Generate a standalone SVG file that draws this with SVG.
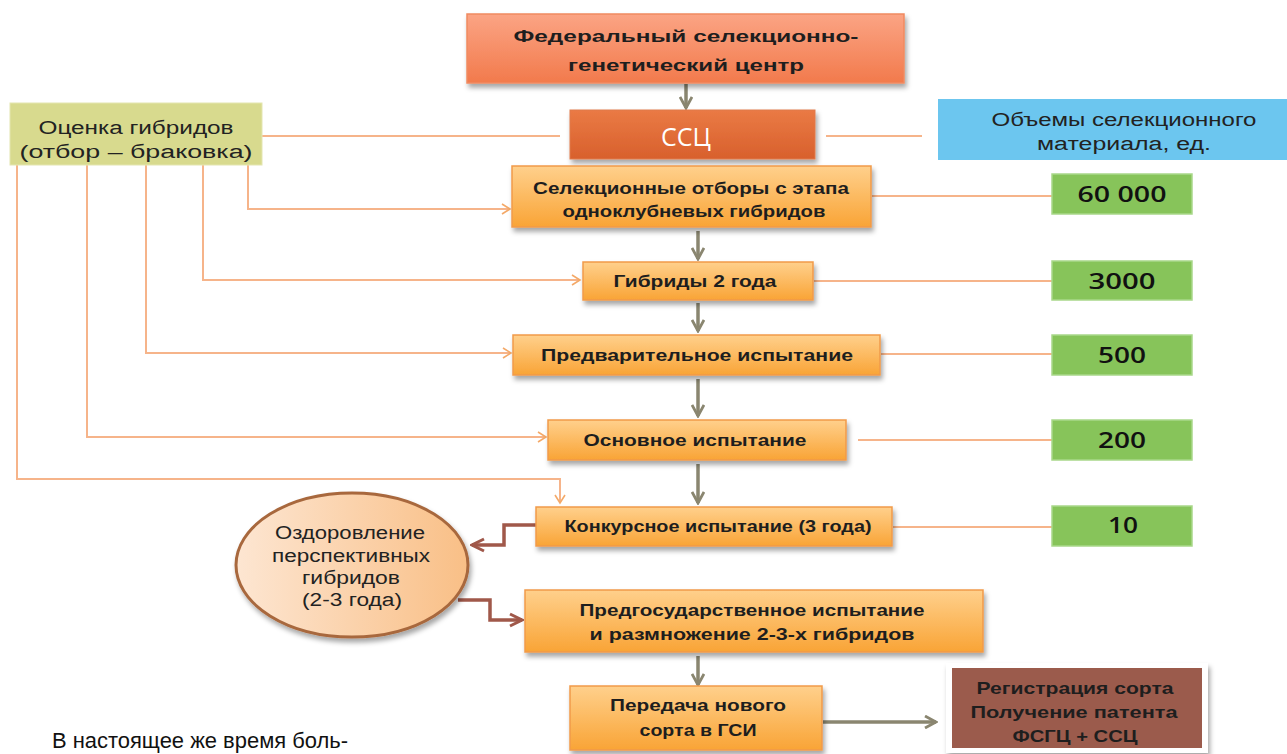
<svg xmlns="http://www.w3.org/2000/svg" width="1287" height="754" viewBox="0 0 1287 754">
<defs>
<linearGradient id="gOr" x1="0" y1="0" x2="0" y2="1">
<stop offset="0" stop-color="#ffd08c"/>
<stop offset="1" stop-color="#f9a436"/>
</linearGradient>
<linearGradient id="gFed" x1="0" y1="0" x2="0" y2="1">
<stop offset="0" stop-color="#fba484"/>
<stop offset="1" stop-color="#f27a4c"/>
</linearGradient>
<linearGradient id="gSsc" x1="0" y1="0" x2="0" y2="1">
<stop offset="0" stop-color="#ea7a45"/>
<stop offset="1" stop-color="#d8602c"/>
</linearGradient>
<linearGradient id="gEll" x1="0" y1="0" x2="1" y2="0">
<stop offset="0" stop-color="#fde6d2"/>
<stop offset="1" stop-color="#f9bf86"/>
</linearGradient>
<filter id="sh" x="-10%" y="-20%" width="120%" height="160%">
<feDropShadow dx="2" dy="4" stdDeviation="2.5" flood-color="#000" flood-opacity="0.35"/>
</filter>
<marker id="mGray" viewBox="0 0 14 14" refX="12" refY="7" markerWidth="14" markerHeight="14" markerUnits="userSpaceOnUse" orient="auto">
<path d="M1,1 L12,7 L1,13" fill="none" stroke="#8a8670" stroke-width="2.8"/>
</marker>
<marker id="mOr" viewBox="0 0 12 12" refX="10" refY="6" markerWidth="12" markerHeight="12" markerUnits="userSpaceOnUse" orient="auto">
<path d="M2,1 L10,6 L2,11" fill="none" stroke="#f4a968" stroke-width="1.6"/>
</marker>
<marker id="mBr" viewBox="0 0 16 16" refX="14" refY="8" markerWidth="16" markerHeight="16" markerUnits="userSpaceOnUse" orient="auto">
<path d="M2,2 L14,8 L2,14" fill="none" stroke="#a0584a" stroke-width="3"/>
</marker>
</defs>
<style>
.box{fill:url(#gOr);stroke:#f19a4a;stroke-width:1.5;filter:url(#sh)}
.grn{fill:#87c45a;stroke:#a9d88a;stroke-width:1.5}
.bt{font-family:"Liberation Sans",Arial,sans-serif;font-weight:bold;font-size:17px;fill:#1e1e1e;text-anchor:middle}
.rt{font-family:"Liberation Sans",Arial,sans-serif;font-size:18px;fill:#222;text-anchor:middle}
.nt{font-family:"Open Sans","Liberation Sans",Arial,sans-serif;font-weight:600;font-size:22px;fill:#111;text-anchor:middle}
.ol{fill:none;stroke:#f6b48a;stroke-width:2}
.ga{fill:none;stroke:#8a8670;stroke-width:3.5;marker-end:url(#mGray)}
.br{fill:none;stroke:#a0584a;stroke-width:3.5;marker-end:url(#mBr)}
</style>

<g id="connectors">
<path class="ga" d="M686,84 V108"/>
<path class="ga" d="M698,231 V259"/>
<path class="ga" d="M698,303 V331"/>
<path class="ga" d="M698,379 V416"/>
<path class="ga" d="M698,464 V503"/>
<path class="ga" d="M698,656 V685"/>
<path class="ga" d="M823,722 H936"/>
<path class="ol" d="M262,136 H560"/>
<path class="ol" d="M826,136 H922"/>
<path class="ol" marker-end="url(#mOr)" d="M248,165 V209 H510"/>
<path class="ol" marker-end="url(#mOr)" d="M203,165 V280 H580"/>
<path class="ol" marker-end="url(#mOr)" d="M146,165 V353 H511"/>
<path class="ol" marker-end="url(#mOr)" d="M87,165 V437 H546"/>
<path class="ol" marker-end="url(#mOr)" d="M17,165 V479 H560 V503"/>
<path class="ol" d="M872,196 H1052"/>
<path class="ol" d="M814,281 H1052"/>
<path class="ol" d="M881,354 H1052"/>
<path class="ol" d="M858,440 H1052"/>
<path class="ol" d="M893,527 H1052"/>
<path class="br" d="M536,525 H504 V545 H472"/>
<path class="br" d="M458,600 H490 V620 H522"/>
</g>

<g id="fed">
<rect x="467" y="14" width="437" height="69" fill="url(#gFed)" stroke="#f08a60" stroke-width="1.5" filter="url(#sh)"/>
<text class="bt" x="686" y="42" font-size="19" textLength="345" lengthAdjust="spacingAndGlyphs">Федеральный селекционно-</text>
<text class="bt" x="686" y="71" font-size="19" textLength="236" lengthAdjust="spacingAndGlyphs">генетический центр</text>
</g>

<g id="ssc">
<rect x="570" y="110" width="245" height="49" fill="url(#gSsc)" stroke="#e07a4a" stroke-width="1" filter="url(#sh)"/>
<text x="686" y="146" font-family="'Open Sans','Liberation Sans',sans-serif" font-size="25" fill="#ffffff" text-anchor="middle">ССЦ</text>
</g>

<g id="ocenka">
<rect x="10" y="103" width="252" height="62" fill="#d8da8e" stroke="#e4e6b0" stroke-width="1"/>
<text class="rt" x="136" y="134" textLength="195" lengthAdjust="spacingAndGlyphs">Оценка гибридов</text>
<text class="rt" x="136" y="158" textLength="233" lengthAdjust="spacingAndGlyphs">(отбор – браковка)</text>
</g>

<g id="volumes">
<rect x="938" y="99" width="349" height="61" fill="#6cc6ef"/>
<text class="rt" x="1124" y="126" textLength="265" lengthAdjust="spacingAndGlyphs">Объемы селекционного</text>
<text class="rt" x="1124" y="150" textLength="174" lengthAdjust="spacingAndGlyphs">материала, ед.</text>
</g>

<g id="n1">
<rect class="box" x="512" y="166" width="359" height="61"/>
<text class="bt" x="691" y="194" textLength="316" lengthAdjust="spacingAndGlyphs">Селекционные отборы с этапа</text>
<text class="bt" x="694" y="217" textLength="263" lengthAdjust="spacingAndGlyphs">одноклубневых гибридов</text>
</g>
<g id="v1">
<rect class="grn" x="1052" y="174" width="140" height="40"/>
<text class="nt" x="1122" y="202" textLength="89" lengthAdjust="spacingAndGlyphs">60 000</text>
</g>

<g id="n2">
<rect class="box" x="583" y="262" width="230" height="38"/>
<text class="bt" x="695" y="287" textLength="163" lengthAdjust="spacingAndGlyphs">Гибриды 2 года</text>
</g>
<g id="v2">
<rect class="grn" x="1052" y="261" width="140" height="39"/>
<text class="nt" x="1122" y="289" textLength="67" lengthAdjust="spacingAndGlyphs">3000</text>
</g>

<g id="n3">
<rect class="box" x="513" y="335" width="367" height="40"/>
<text class="bt" x="697" y="361" textLength="312" lengthAdjust="spacingAndGlyphs">Предварительное испытание</text>
</g>
<g id="v3">
<rect class="grn" x="1052" y="335" width="140" height="40"/>
<text class="nt" x="1122" y="363" textLength="48" lengthAdjust="spacingAndGlyphs">500</text>
</g>

<g id="n4">
<rect class="box" x="548" y="420" width="298" height="40"/>
<text class="bt" x="695" y="446" textLength="223" lengthAdjust="spacingAndGlyphs">Основное испытание</text>
</g>
<g id="v4">
<rect class="grn" x="1052" y="420" width="140" height="40"/>
<text class="nt" x="1122" y="448" textLength="48" lengthAdjust="spacingAndGlyphs">200</text>
</g>

<g id="n5">
<rect class="box" x="536" y="507" width="356" height="39"/>
<text class="bt" x="718" y="532" textLength="307" lengthAdjust="spacingAndGlyphs">Конкурсное испытание (3 года)</text>
</g>
<g id="v5">
<rect class="grn" x="1052" y="506" width="140" height="40"/>
<text class="nt" x="1123" y="533" textLength="30" lengthAdjust="spacingAndGlyphs">10</text>
</g>

<g id="ozdor">
<ellipse cx="352" cy="565" rx="116" ry="72" fill="url(#gEll)" stroke="#a8683e" stroke-width="3" filter="url(#sh)"/>
<text class="rt" x="350" y="539" textLength="150" lengthAdjust="spacingAndGlyphs">Оздоровление</text>
<text class="rt" x="351" y="562" textLength="158" lengthAdjust="spacingAndGlyphs">перспективных</text>
<text class="rt" x="351" y="584" textLength="98" lengthAdjust="spacingAndGlyphs">гибридов</text>
<text class="rt" x="352" y="606" textLength="100" lengthAdjust="spacingAndGlyphs">(2-3 года)</text>
</g>

<g id="n6">
<rect class="box" x="525" y="590" width="458" height="62"/>
<text class="bt" x="752" y="616" textLength="345" lengthAdjust="spacingAndGlyphs">Предгосударственное испытание</text>
<text class="bt" x="752" y="640" textLength="325" lengthAdjust="spacingAndGlyphs">и размножение 2-3-х гибридов</text>
</g>

<g id="n7">
<rect class="box" x="570" y="686" width="252" height="64"/>
<text class="bt" x="698" y="711" textLength="176" lengthAdjust="spacingAndGlyphs">Передача нового</text>
<text class="bt" x="698" y="736" textLength="117" lengthAdjust="spacingAndGlyphs">сорта в ГСИ</text>
</g>

<g id="reg">
<rect x="946" y="663" width="262" height="90" fill="#ffffff" filter="url(#sh)"/>
<rect x="952" y="668" width="250" height="80" fill="#9b5b4c"/>
<text class="bt" x="1075" y="694" textLength="197" lengthAdjust="spacingAndGlyphs">Регистрация сорта</text>
<text class="bt" x="1074" y="718" textLength="207" lengthAdjust="spacingAndGlyphs">Получение патента</text>
<text class="bt" x="1075" y="742" textLength="125" lengthAdjust="spacingAndGlyphs">ФСГЦ + ССЦ</text>
</g>

<text x="52" y="748" font-family="'Liberation Sans',Arial,sans-serif" font-size="22" fill="#111" textLength="296" lengthAdjust="spacingAndGlyphs">В настоящее же время боль-</text>
</svg>
